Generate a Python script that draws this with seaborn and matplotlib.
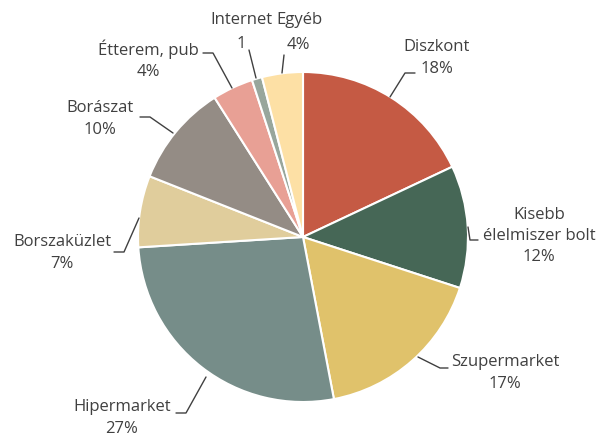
import seaborn as sn
import matplotlib.pyplot as plt

# data
labels = ["Diszkont", "Kisebb\nélelmiszer bolt", "Szupermarket", "Hipermarket",
          "Borszaküzlet", "Borászat", "Étterem, pub", "Internet", "Egyéb"]
shares = [18, 12, 17, 27, 7, 10, 4, 1, 4]
pct_text = ["18%", "12%", "17%", "27%", "7%", "10%", "4%", "1", "4%"]
colors = ["#C55A44", "#466756", "#E0C26B", "#768D89", "#E0CD9C",
          "#948C85", "#E8A095", "#98A69C", "#FDE0A5"]

sn.set_style("white")
plt.rcParams["font.family"] = ["Open Sans", "DejaVu Sans"]

H = 438  # pixel height, used to flip y
FS = 12

fig = plt.figure(figsize=(6, 4.38), dpi=100)
ax = fig.add_axes([0, 0, 1, 1])
ax.pie(shares, colors=sn.color_palette(colors), startangle=90, counterclock=False,
       center=(303, H - 237), radius=165,
       wedgeprops=dict(edgecolor="white", linewidth=1.5))
ax.set_xlim(0, 600)
ax.set_ylim(0, H)
ax.set_aspect("equal")
ax.axis("off")

# label centres (pixel coords from top-left) and leader lines
label_pos = [(437, 58), (539, 236), (505, 373), (122, 418), (62, 253),
             (100, 119), (148, 60), (241, 32), (298, 32)]
leaders = [
    [(415, 73), (405, 73), (390, 97)],
    [(468, 227), (470, 240), (478, 240)],
    [(418, 357), (440, 368), (448, 368)],
    [(176, 413), (186, 413), (206, 377)],
    [(114, 252), (124, 252), (139, 218)],
    [(140, 117), (150, 117), (173, 133)],
    [(203, 53), (213, 53), (232, 88)],
    [(249, 50), (256, 78)],
    [(284, 55), (282, 73)],
]

for lab, pct, (x, y) in zip(labels, pct_text, label_pos):
    if lab == "Internet":
        ax.text(272, H - 20, lab, ha="right", va="center", fontsize=FS, color="#404040")
        ax.text(x, H - 44, pct, ha="center", va="center", fontsize=FS, color="#404040")
    elif lab == "Egyéb":
        ax.text(276, H - 20, lab, ha="left", va="center", fontsize=FS, color="#404040")
        ax.text(x, H - 45, pct, ha="center", va="center", fontsize=FS, color="#404040")
    else:
        ax.text(x, H - y, lab + "\n" + pct, ha="center", va="center", fontsize=FS,
                color="#404040", linespacing=1.45)

for pts in leaders:
    ax.plot([p[0] for p in pts], [H - p[1] for p in pts], color="#404040", lw=1)

fig.savefig("out.png", dpi=100, facecolor="white")
